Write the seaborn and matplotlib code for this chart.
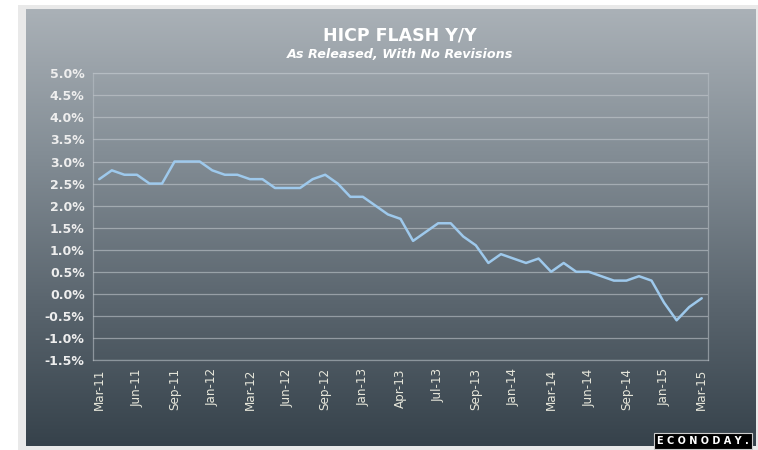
import numpy as np
import pandas as pd
import matplotlib
matplotlib.use("Agg")
import matplotlib.pyplot as plt
import seaborn as sns
from matplotlib.colors import LinearSegmentedColormap
from matplotlib.patches import Rectangle

# monthly flash releases, Mar-11 .. Mar-15 (49 points)
hicp = [2.6, 2.8, 2.7, 2.7, 2.5, 2.5, 3.0, 3.0, 3.0, 2.8,
        2.7, 2.7, 2.6, 2.6, 2.4, 2.4, 2.4, 2.6, 2.7, 2.5,
        2.2, 2.2, 2.0, 1.8, 1.7, 1.2, 1.4, 1.6, 1.6, 1.3,
        1.1, 0.7, 0.9, 0.8, 0.7, 0.8, 0.5, 0.7, 0.5, 0.5,
        0.4, 0.3, 0.3, 0.4, 0.3, -0.2, -0.6, -0.3, -0.1]
tick_labels = ["Mar-11", "Jun-11", "Sep-11", "Jan-12", "Mar-12", "Jun-12",
               "Sep-12", "Jan-13", "Apr-13", "Jul-13", "Sep-13", "Jan-14",
               "Mar-14", "Jun-14", "Sep-14", "Jan-15", "Mar-15"]
y_ticks = np.arange(-1.5, 5.01, 0.5)

df = pd.DataFrame({"idx": np.arange(len(hicp)), "value": hicp})

sns.set_theme(style="white")
plt.rcParams["font.family"] = ["DejaVu Sans"]

W, H = 758, 450
fig = plt.figure(figsize=(W / 100, H / 100), dpi=100)
fig.patch.set_facecolor("white")

# outer light frame
fig.patches.append(Rectangle((18 / W, 0), 1 - 18 / W, 1 - 5 / H,
                             transform=fig.transFigure, facecolor="#e9e9e9",
                             edgecolor="none", zorder=0))

# gradient panel
bg = fig.add_axes([26 / W, 4 / H, 730 / W, 437 / H], zorder=1)
grad = LinearSegmentedColormap.from_list("g", ["#aab1b7", "#838d95", "#5b666f", "#36424b"])
bg.imshow(np.linspace(0, 1, 256).reshape(-1, 1), aspect="auto", cmap=grad,
          extent=[0, 1, 0, 1])
bg.set_axis_off()

ax = fig.add_axes([93 / W, 1 - 360 / H, 615 / W, 286.7 / H], zorder=2)
ax.patch.set_alpha(0)
sns.lineplot(data=df, x="idx", y="value", ax=ax, color="#9ec9ec", linewidth=1.8)

ax.set_xlim(-0.5, len(hicp) - 0.5)
ax.set_ylim(-1.5, 5.0)
ax.set_yticks(y_ticks)
ax.set_yticklabels([f"{v:.1f}%" for v in y_ticks], fontsize=9, color="#eeeeee",
                   fontweight="bold")
ax.set_xticks(np.arange(0, len(hicp), 3))
ax.set_xticklabels(tick_labels, rotation=90, fontsize=9.5, color="#e6e6da",
                   fontstretch="condensed")
ax.tick_params(axis="both", length=0, pad=6)
ax.tick_params(axis="x", pad=6)
ax.set_xlabel("")
ax.set_ylabel("")
ax.grid(axis="y", color="#c8ced3", alpha=0.55, linewidth=0.9)
for s in ax.spines.values():
    s.set_color("#b8bfc5")
    s.set_alpha(0.6)
    s.set_linewidth(0.9)

fig.text(400 / W, 1 - 35 / H, "HICP FLASH Y/Y", ha="center", va="center",
         fontsize=12.5, fontweight="bold", color="white", zorder=3)
fig.text(400 / W, 1 - 54 / H, "As Released, With No Revisions", ha="center",
         va="center", fontsize=9.2, fontweight="bold", fontstyle="italic",
         color="white", zorder=3)

# logo box
fig.text(703 / W, 1 - 441 / H, "E C O N O D A Y .", ha="center", va="center",
         fontsize=7, fontweight="bold", color="white", zorder=4,
         bbox=dict(boxstyle="square,pad=0.3", facecolor="black",
                   edgecolor="#cccccc", linewidth=0.8))

fig.savefig("out.png", dpi=100)
